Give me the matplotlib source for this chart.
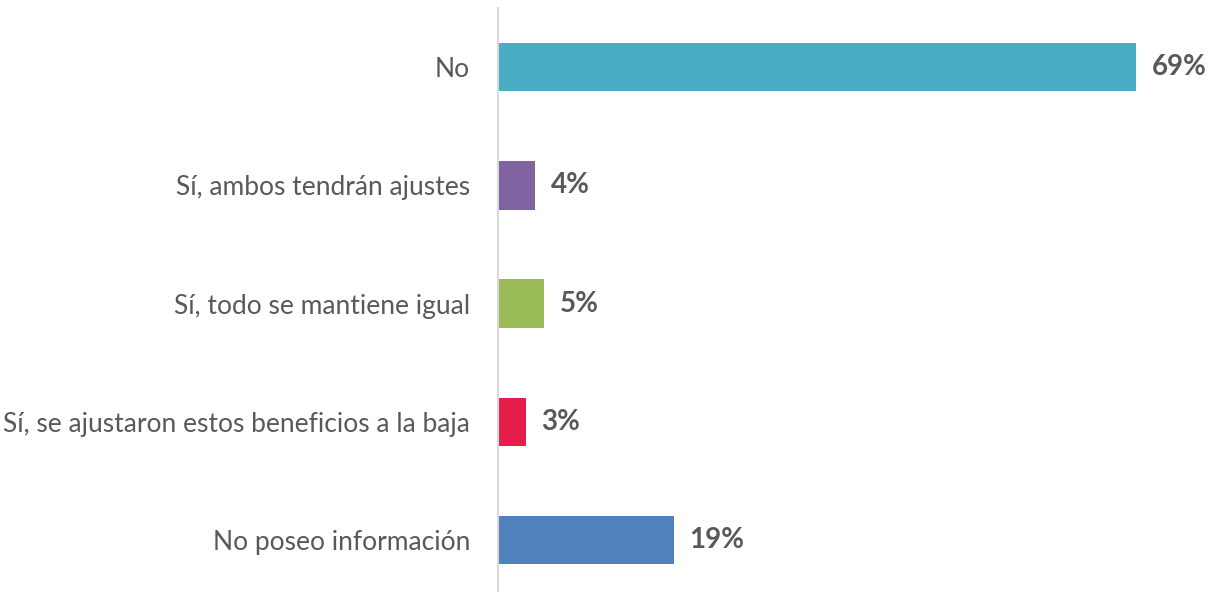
import matplotlib
matplotlib.use("Agg")
import matplotlib.pyplot as plt

categories = ["No", "Sí, ambos tendrán ajustes", "Sí, todo se mantiene igual",
              "Sí, se ajustaron estos beneficios a la baja", "No poseo información"]
values = [69, 4, 5, 3, 19]
colors = ["#4BACC6", "#8064A2", "#9BBB59", "#E51E4B", "#4F81BD"]

plt.rcParams['font.family'] = ['Lato', 'DejaVu Sans']

fig = plt.figure(figsize=(12.24, 5.92), dpi=100)
ax = fig.add_axes([498 / 1224, 0, 1 - 498 / 1224, 584 / 592])

y = list(range(len(categories)))
ax.barh(y, values, height=0.41, color=colors)

for yi, v in zip(y, values):
    ax.text(v + 1.7, yi, f"{v}%", va='center', ha='left', fontsize=20,
            fontweight='bold', color='#595959')

ax.set_xlim(0, 78.5)
ax.set_ylim(-0.5 + 584 / 118.25, -0.5)
ax.set_yticks(y)
ax.set_yticklabels(categories, fontsize=19, color='#595959')
ax.tick_params(axis='y', length=0, pad=20)
ax.set_xticks([])
for s in ['top', 'right', 'bottom']:
    ax.spines[s].set_visible(False)
ax.spines['left'].set_color('#D9D9D9')
ax.spines['left'].set_linewidth(1.5)

fig.savefig("out.png", dpi=100)
